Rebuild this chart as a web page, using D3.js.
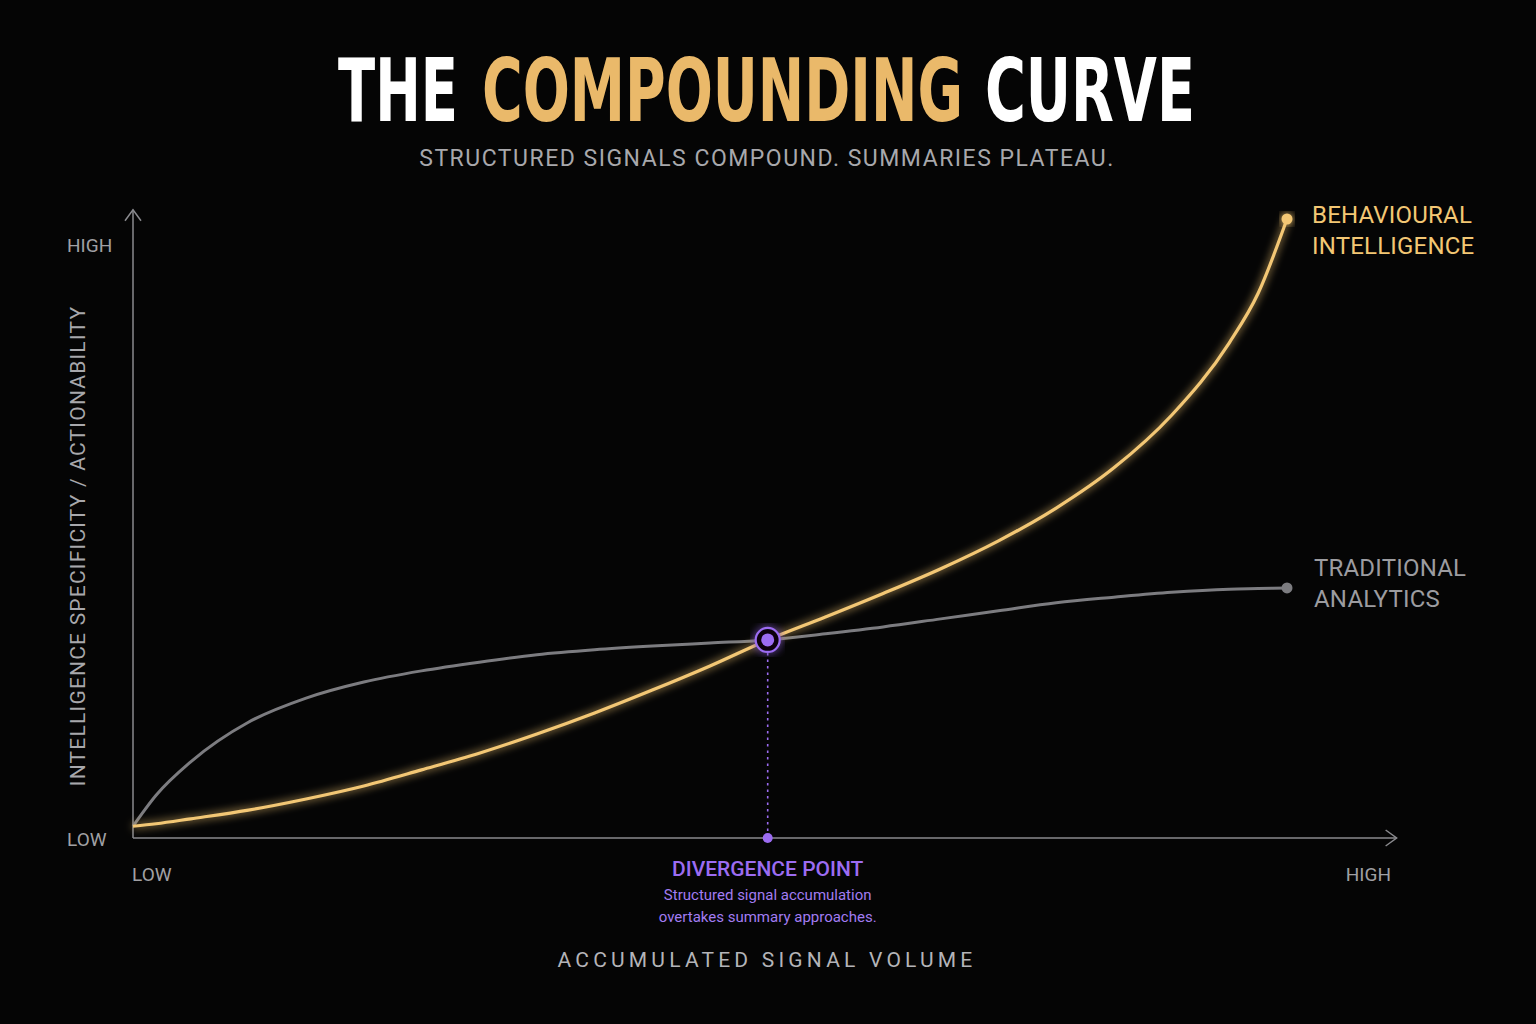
<!DOCTYPE html>
<meta charset="utf-8">
<style>
body { margin: 0; background: #050505; }
svg { display: block; }
</style>
<svg width="1536" height="1024"></svg>
<script src="https://d3js.org/d3.v7.min.js"></script>
<script>
// signal volume steps (0 = low, 100 = high)
var volume = [0, 2, 5, 10, 15, 20, 25, 30, 35, 40, 45, 50, 55, 60, 65, 70, 75, 80, 85, 90, 95, 97.5, 100]
var behavioural = [1.9, 2.3, 3.1, 4.5, 6.3, 8.4, 11.0, 13.7, 16.8, 20.2, 23.9, 27.8, 32.0, 35.7, 39.5, 43.5, 48.0, 53.3, 59.8, 68.3, 80.0, 88.0, 100]
var traditional = [1.9, 6.9, 12.3, 18.7, 22.6, 25.2, 27.0, 28.4, 29.6, 30.4, 31.0, 31.5, 32.0, 33.0, 34.1, 35.4, 36.7, 38.0, 38.9, 39.7, 40.2, 40.3, 40.4]
var divergenceAt = 55
var axisEnds = ['LOW', 'HIGH']
var seriesLabels = [['BEHAVIOURAL', 'INTELLIGENCE'], ['TRADITIONAL', 'ANALYTICS']]
var noteLines = ['Structured signal accumulation', 'overtakes summary approaches.']
var titleWords = ['THE', 'COMPOUNDING', 'CURVE']

const gold = '#f3c774'
const grey = '#7c7c80'
const purple = '#9c6cf2'
const svg = d3.select('svg')

svg.append('rect').attr('width', 1536).attr('height', 1024).attr('fill', '#050505')

const x = d3.scaleLinear().domain([0, 100]).range([133, 1287])
const y = d3.scaleLinear().domain([0, 100]).range([838, 219])
const font = 'Roboto, "Liberation Sans", sans-serif'

// glow filter
const defs = svg.append('defs')
const glow = defs.append('filter').attr('id', 'glow')
	.attr('x', '-20%').attr('y', '-20%').attr('width', '140%').attr('height', '140%')
glow.append('feGaussianBlur').attr('stdDeviation', 4).attr('result', 'b')
const merge = glow.append('feMerge')
merge.append('feMergeNode').attr('in', 'b')
merge.append('feMergeNode').attr('in', 'SourceGraphic')

// title, one text per word, squeezed horizontally to a condensed look
const titleX = [338, 482, 985]
const titleW = [120, 481, 210]
const titleFill = ['#ffffff', '#eab96a', '#ffffff']
titleWords.forEach((w, i) => {
	const t = svg.append('text')
		.attr('font-family', '"DejaVu Sans Condensed", "DejaVu Sans", sans-serif')
		.attr('font-weight', 'bold')
		.attr('font-size', 88)
		.attr('fill', titleFill[i])
		.text(w)
	const natural = t.node().getComputedTextLength()
	t.attr('transform', `translate(${titleX[i]},121) scale(${titleW[i] / natural},1)`)
})

svg.append('text')
	.attr('x', 767).attr('y', 166)
	.attr('text-anchor', 'middle')
	.attr('font-family', font)
	.attr('font-size', 23)
	.attr('letter-spacing', 1.5)
	.attr('fill', '#a8a8ac')
	.text('STRUCTURED SIGNALS COMPOUND. SUMMARIES PLATEAU.')

// axes
const axisColour = '#8a8a8e'
svg.append('line')
	.attr('x1', x(0)).attr('y1', y(0)).attr('x2', x(109.5)).attr('y2', y(0))
	.attr('stroke', axisColour).attr('stroke-width', 1.5)
svg.append('path')
	.attr('d', `M${x(109.5) - 11},${y(0) - 8}L${x(109.5)},${y(0)}L${x(109.5) - 11},${y(0) + 8}`)
	.attr('fill', 'none').attr('stroke', axisColour).attr('stroke-width', 1.5)
svg.append('line')
	.attr('x1', x(0)).attr('y1', y(0)).attr('x2', x(0)).attr('y2', y(101.5))
	.attr('stroke', axisColour).attr('stroke-width', 1.5)
svg.append('path')
	.attr('d', `M${x(0) - 8},${y(101.5) + 11}L${x(0)},${y(101.5)}L${x(0) + 8},${y(101.5) + 11}`)
	.attr('fill', 'none').attr('stroke', axisColour).attr('stroke-width', 1.5)

const tickStyle = sel => sel
	.attr('font-family', font).attr('font-size', 19).attr('fill', '#a0a0a4')

svg.append('text').call(tickStyle).attr('x', 67).attr('y', 252).text(axisEnds[1])
svg.append('text').call(tickStyle).attr('x', 67).attr('y', 846).text(axisEnds[0])
svg.append('text').call(tickStyle).attr('x', x(0) - 1).attr('y', 881).text(axisEnds[0])
svg.append('text').call(tickStyle).attr('x', 1391).attr('y', 881).attr('text-anchor', 'end').text(axisEnds[1])

svg.append('text')
	.attr('transform', 'translate(85,546) rotate(-90)')
	.attr('text-anchor', 'middle')
	.attr('font-family', font).attr('font-size', 21).attr('letter-spacing', 1.2)
	.attr('fill', '#a8a8ac')
	.text('INTELLIGENCE SPECIFICITY / ACTIONABILITY')

svg.append('text')
	.attr('x', 767).attr('y', 967)
	.attr('text-anchor', 'middle')
	.attr('font-family', font).attr('font-size', 21).attr('letter-spacing', 4.2)
	.attr('fill', '#b4b4b8')
	.text('ACCUMULATED SIGNAL VOLUME')

// curves
const line = d3.line()
	.x((d, i) => x(volume[i]))
	.y(d => y(d))
	.curve(d3.curveMonotoneX)

svg.append('path').datum(traditional)
	.attr('d', line).attr('fill', 'none')
	.attr('stroke', grey).attr('stroke-width', 3)

svg.append('path').datum(behavioural)
	.attr('d', line).attr('fill', 'none')
	.attr('stroke', gold).attr('stroke-width', 3.2)
	.attr('filter', 'url(#glow)')

// end points
svg.append('circle').attr('cx', x(100)).attr('cy', y(behavioural[behavioural.length - 1]))
	.attr('r', 5.5).attr('fill', gold).attr('filter', 'url(#glow)')
svg.append('circle').attr('cx', x(100)).attr('cy', y(traditional[traditional.length - 1]))
	.attr('r', 5.5).attr('fill', grey)

// series labels
const labelStyle = [gold, '#9c9ca0']
const labelY = [behavioural[behavioural.length - 1], traditional[traditional.length - 1]]
const labelShift = [4, -12]
seriesLabels.forEach((lines, k) => {
	const t = svg.append('text')
		.attr('x', x(100) + 25 + k * 2).attr('y', y(labelY[k]) + labelShift[k])
		.attr('font-family', font).attr('font-size', 24).attr('letter-spacing', 0.2)
		.attr('fill', labelStyle[k])
	lines.forEach((l, j) => {
		t.append('tspan').attr('x', x(100) + 25 + k * 2).attr('dy', j === 0 ? 0 : 31).text(l)
	})
})

// divergence point
const divIndex = volume.indexOf(divergenceAt)
const dx = x(divergenceAt)
const dy = y(behavioural[divIndex])
svg.append('line')
	.attr('x1', dx).attr('y1', dy + 13).attr('x2', dx).attr('y2', y(0))
	.attr('stroke', purple).attr('stroke-width', 1.6).attr('stroke-dasharray', '2.5,4')
svg.append('circle').attr('cx', dx).attr('cy', y(0)).attr('r', 5).attr('fill', purple)
svg.append('circle').attr('cx', dx).attr('cy', dy).attr('r', 12)
	.attr('fill', '#0a0610').attr('stroke', purple).attr('stroke-width', 2.2)
	.attr('filter', 'url(#glow)')
svg.append('circle').attr('cx', dx).attr('cy', dy).attr('r', 6.5).attr('fill', purple)

svg.append('text')
	.attr('x', dx).attr('y', 876)
	.attr('text-anchor', 'middle')
	.attr('font-family', font).attr('font-size', 21).attr('font-weight', 500)
	.attr('fill', purple)
	.text('DIVERGENCE POINT')
noteLines.forEach((l, j) => {
	svg.append('text')
		.attr('x', dx).attr('y', 900 + j * 22)
		.attr('text-anchor', 'middle')
		.attr('font-family', font).attr('font-size', 15)
		.attr('fill', '#a27cf2')
		.text(l)
})
</script>
